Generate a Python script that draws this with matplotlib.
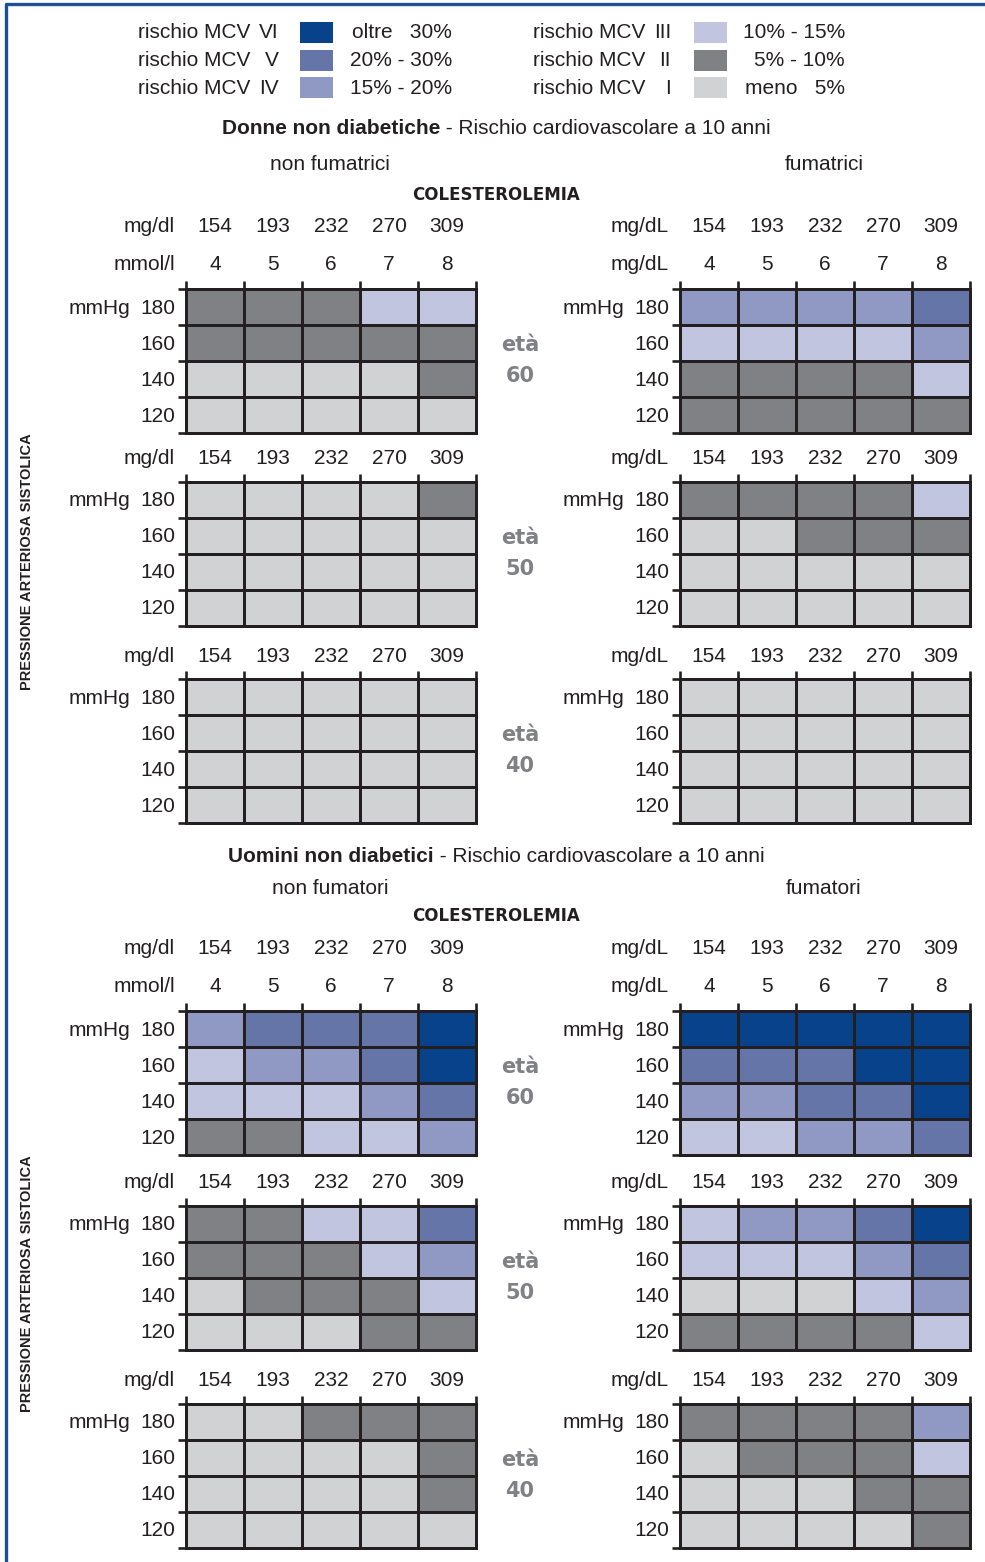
import numpy as np
import matplotlib
matplotlib.use('Agg')
import matplotlib.pyplot as plt
from matplotlib.colors import ListedColormap, BoundaryNorm
from matplotlib.patches import Rectangle

# Risk level colours, I (low) .. VI (high)
level_colors = ['#D1D2D4', '#808184', '#C1C5E0', '#9099C4', '#6675A8', '#07428A']
level_names = ['I', 'II', 'III', 'IV', 'V', 'VI']
level_ranges = ['meno   5%', '5% - 10%', '10% - 15%', '15% - 20%', '20% - 30%', 'oltre   30%']

chol_mgdl = ['154', '193', '232', '270', '309']
chol_mmol = ['4', '5', '6', '7', '8']
pressure = ['180', '160', '140', '120']
ages = ['60', '50', '40']

# rows: 180, 160, 140, 120 / columns: 154 .. 309 mg/dl
women_nonsmoke = {
    '60': [[2, 2, 2, 3, 3], [2, 2, 2, 2, 2], [1, 1, 1, 1, 2], [1, 1, 1, 1, 1]],
    '50': [[1, 1, 1, 1, 2], [1, 1, 1, 1, 1], [1, 1, 1, 1, 1], [1, 1, 1, 1, 1]],
    '40': [[1, 1, 1, 1, 1], [1, 1, 1, 1, 1], [1, 1, 1, 1, 1], [1, 1, 1, 1, 1]],
}
women_smoke = {
    '60': [[4, 4, 4, 4, 5], [3, 3, 3, 3, 4], [2, 2, 2, 2, 3], [2, 2, 2, 2, 2]],
    '50': [[2, 2, 2, 2, 3], [1, 1, 2, 2, 2], [1, 1, 1, 1, 1], [1, 1, 1, 1, 1]],
    '40': [[1, 1, 1, 1, 1], [1, 1, 1, 1, 1], [1, 1, 1, 1, 1], [1, 1, 1, 1, 1]],
}
men_nonsmoke = {
    '60': [[4, 5, 5, 5, 6], [3, 4, 4, 5, 6], [3, 3, 3, 4, 5], [2, 2, 3, 3, 4]],
    '50': [[2, 2, 3, 3, 5], [2, 2, 2, 3, 4], [1, 2, 2, 2, 3], [1, 1, 1, 2, 2]],
    '40': [[1, 1, 2, 2, 2], [1, 1, 1, 1, 2], [1, 1, 1, 1, 2], [1, 1, 1, 1, 1]],
}
men_smoke = {
    '60': [[6, 6, 6, 6, 6], [5, 5, 5, 6, 6], [4, 4, 5, 5, 6], [3, 3, 4, 4, 5]],
    '50': [[3, 4, 4, 5, 6], [3, 3, 3, 4, 5], [1, 1, 1, 3, 4], [2, 2, 2, 2, 3]],
    '40': [[2, 2, 2, 2, 4], [1, 2, 2, 2, 3], [1, 1, 1, 2, 2], [1, 1, 1, 1, 2]],
}

plt.rcParams['font.family'] = ['Liberation Sans', 'DejaVu Sans']
TXT = '#231F20'
GRAY = '#808184'
FS = 15

fig = plt.figure(figsize=(9.85, 15.62), dpi=100)
ax = fig.add_axes([0, 0, 1, 1])
ax.set_xlim(0, 985)
ax.set_ylim(1562, 0)
ax.axis('off')
renderer = fig.canvas.get_renderer()

# blue frame (top and left)
ax.plot([6, 6, 985], [1562, 4, 4], color='#1F4F93', lw=2.4, solid_capstyle='butt')

cmap = ListedColormap(level_colors)
norm = BoundaryNorm(np.arange(0.5, 7.5), cmap.N)

# legend
for i in range(6):
    lvl = 5 - i
    col, row = divmod(i, 3)
    y = 33 + row * 27.5
    xl = 138 + col * 395
    ax.text(xl, y, 'rischio MCV', fontsize=FS, ha='left', va='center', color=TXT)
    ax.text(279 + col * 392, y, level_names[lvl], fontsize=FS, ha='right', va='center', color=TXT)
    ax.add_patch(Rectangle((300 + col * 394, y - 11), 33, 21, color=level_colors[lvl], lw=0))
    ax.text(452 + col * 393, y, level_ranges[lvl], fontsize=FS, ha='right', va='center', color=TXT)

CW, RH = 58, 36
LW = 1.9


def draw_grid(x0, top, data, first, left):
    xe = x0 + np.arange(6) * CW
    ye = top + np.arange(5) * RH
    ax.pcolormesh(xe, ye, np.array(data), cmap=cmap, norm=norm,
                  edgecolors=TXT, linewidth=LW)
    ax.vlines(xe, top - 8, top, color=TXT, lw=LW)
    ax.hlines(ye, x0 - 8, x0, color=TXT, lw=LW)
    xc = xe[:-1] + CW / 2
    unit1 = 'mg/dl' if left else 'mg/dL'
    if first:
        rows = [(top - 64, unit1, chol_mgdl), (top - 26, 'mmol/l' if left else 'mg/dL', chol_mmol)]
    else:
        rows = [(top - 24, unit1, chol_mgdl)]
    for y, unit, labels in rows:
        ax.text(x0 - 11, y + 1, unit, fontsize=FS, ha='right', va='center', color=TXT)
        for x, lab in zip(xc, labels):
            ax.text(x, y + 1, lab, fontsize=FS, ha='center', va='center', color=TXT)
    for y, lab in zip(ye[:-1] + RH / 2, pressure):
        ax.text(x0 - 11, y + 1, lab, fontsize=FS, ha='right', va='center', color=TXT)
    ax.text(x0 - 56, top + RH / 2 + 1, 'mmHg', fontsize=FS, ha='right', va='center', color=TXT)


def draw_section(title_bold, sub_left, sub_right, y_title, y_sub, y_col, tops,
                 nonsmoke, smoke, y_side):
    t1 = ax.text(0, y_title, title_bold, fontsize=FS, fontweight='bold',
                 ha='left', va='center', color=TXT)
    t2 = ax.text(0, y_title, ' - Rischio cardiovascolare a 10 anni', fontsize=FS,
                 ha='left', va='center', color=TXT)
    w1 = t1.get_window_extent(renderer).width
    w2 = t2.get_window_extent(renderer).width
    x_start = 496 - (w1 + w2) / 2
    t1.set_x(x_start)
    t2.set_x(x_start + w1)
    ax.text(330, y_sub, sub_left, fontsize=FS, ha='center', va='center', color=TXT)
    ax.text(824, y_sub, sub_right, fontsize=FS, ha='center', va='center', color=TXT)
    ax.text(496, y_col, 'COLESTEROLEMIA', fontsize=12, fontweight='bold',
            ha='center', va='center', color=TXT, family='DejaVu Sans')
    ax.text(27, y_side, 'PRESSIONE ARTERIOSA SISTOLICA', fontsize=10.5, fontweight='bold',
            rotation=90, ha='center', va='center', color=TXT)
    for k, (age, top) in enumerate(zip(ages, tops)):
        draw_grid(186, top, nonsmoke[age], k == 0, True)
        draw_grid(680, top, smoke[age], k == 0, False)
        ax.text(520, top + 56, 'età', fontsize=15, fontweight='heavy',
                ha='center', va='center', color=GRAY, family='DejaVu Sans')
        ax.text(520, top + 87, age, fontsize=15, fontweight='heavy',
                ha='center', va='center', color=GRAY, family='DejaVu Sans')


draw_section('Donne non diabetiche', 'non fumatrici', 'fumatrici', 129, 165, 195,
             [289, 482, 679], women_nonsmoke, women_smoke, 562)
draw_section('Uomini non diabetici', 'non fumatori', 'fumatori', 857, 889, 916,
             [1011, 1206, 1404], men_nonsmoke, men_smoke, 1284)

fig.savefig('out.png', dpi=100)
